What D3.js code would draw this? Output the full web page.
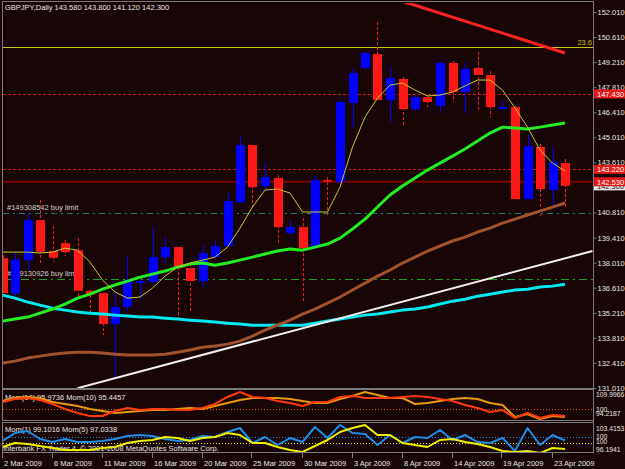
<!DOCTYPE html>
<html>
<head>
<meta charset="utf-8">
<script src="https://d3js.org/d3.v7.min.js"></script>
<style>
  body { margin: 0; background: #180505; }
  text { font-family: "Liberation Sans", Arial, sans-serif; font-size: 7.5px; }
</style>
</head>
<body>
<div id="chart"></div>
<script>
// ---- data ----
var dates = ["2009-03-02","2009-03-03","2009-03-04","2009-03-05","2009-03-06","2009-03-08","2009-03-09","2009-03-10","2009-03-11","2009-03-12",
  "2009-03-13","2009-03-15","2009-03-16","2009-03-17","2009-03-18","2009-03-19","2009-03-20","2009-03-22","2009-03-23","2009-03-24",
  "2009-03-25","2009-03-26","2009-03-27","2009-03-29","2009-03-30","2009-03-31","2009-04-01","2009-04-02","2009-04-03","2009-04-05",
  "2009-04-06","2009-04-07","2009-04-08","2009-04-09","2009-04-12","2009-04-13","2009-04-14","2009-04-15","2009-04-16","2009-04-17",
  "2009-04-19","2009-04-20","2009-04-21","2009-04-22","2009-04-23","2009-04-24"];

var open  = [138.26,136.29,138.15,140.39,138.66,139.10,138.71,136.44,136.31,134.58,135.53,136.87,136.93,138.32,138.88,137.71,136.98,138.32,138.94,141.40,
             144.58,142.29,142.74,139.66,140.00,138.88,142.62,142.51,146.93,148.88,149.66,147.09,148.27,146.59,147.26,146.76,149.16,147.54,148.88,148.49,
             146.59,146.70,141.56,144.47,142.07,143.58];
var high  = [138.43,138.62,140.78,141.51,140.05,139.27,139.38,136.48,136.31,136.31,138.38,137.04,140.00,139.44,138.88,137.99,138.99,139.27,141.90,145.08,
             144.58,143.57,142.90,140.39,140.50,142.85,142.79,147.09,148.82,149.78,151.45,148.94,148.38,147.37,147.37,149.27,149.27,149.22,149.78,148.71,
             147.09,146.76,145.19,144.64,144.52,143.80];
var low   = [136.20,136.14,137.59,137.99,138.04,138.38,136.03,135.18,133.97,131.56,135.36,135.97,136.87,137.99,134.91,135.25,136.65,138.32,138.88,141.34,
             140.95,142.07,139.00,139.55,135.75,138.82,140.61,142.46,145.59,148.82,147.09,145.81,145.70,146.48,146.70,146.37,146.98,146.37,146.53,146.14,
             146.59,141.50,141.56,140.61,141.06,141.12];
var close = [136.31,138.19,140.39,138.62,138.28,138.60,136.44,136.25,134.58,135.53,137.04,136.98,138.32,138.88,137.71,136.98,138.54,138.94,141.45,144.58,
             142.23,142.79,140.00,140.00,138.82,142.62,142.57,146.98,148.60,149.72,147.09,148.32,146.59,147.26,146.98,149.16,147.54,148.83,148.49,146.70,
             146.70,141.56,144.52,142.12,143.63,142.30];

// moving averages
var maYellow = [138.60,138.60,138.60,138.55,138.60,138.82,138.71,138.04,137.04,136.37,136.03,136.09,136.59,137.26,137.76,137.99,138.15,138.32,138.88,139.94,
                141.12,142.07,142.12,141.90,140.84,140.84,140.84,142.23,144.47,146.14,147.20,147.93,148.04,147.65,147.32,147.37,147.54,147.88,148.21,148.21,
                147.65,146.65,145.58,144.30,143.57,143.13];
var maGreen  = [134.75,134.86,134.97,135.19,135.42,135.70,136.03,136.25,136.53,136.76,136.98,137.20,137.37,137.54,137.76,137.93,137.99,137.87,137.99,138.15,
                138.32,138.49,138.66,138.77,138.71,138.88,139.05,139.38,139.89,140.44,141.12,141.79,142.29,142.74,143.18,143.57,143.96,144.36,144.80,145.25,
                145.58,145.53,145.47,145.58,145.70,145.81];
var maBrown  = [132.40,132.51,132.68,132.79,132.90,132.96,133.01,133.01,132.96,132.90,132.85,132.85,132.85,132.90,133.01,133.13,133.29,133.35,133.46,133.63,
                133.91,134.24,134.52,134.80,135.14,135.42,135.75,136.09,136.48,136.87,137.26,137.60,137.99,138.32,138.66,138.94,139.22,139.44,139.72,139.94,
                140.22,140.44,140.67,140.89,141.11,141.34];
var maCyan   = [136.20,136.03,135.81,135.64,135.47,135.36,135.25,135.19,135.14,135.08,135.03,134.97,134.97,134.91,134.86,134.80,134.75,134.69,134.63,134.58,
                134.52,134.52,134.52,134.52,134.52,134.63,134.75,134.86,134.97,135.08,135.14,135.25,135.36,135.42,135.53,135.70,135.86,135.97,136.14,136.25,
                136.37,136.48,136.53,136.65,136.70,136.81];

// trend lines: [bar index, price]
var trendUp   = [[6.0, 131.00], [47.2, 138.66]];
var trendDown = [[32.2, 152.57], [45.0, 149.72]];

// horizontal levels
var fibo236   = 150.05;
var orderA    = 147.43;
var orderB    = 143.22;
var orderC    = 142.53;
var bidPrice  = 142.30;
var limit1    = 140.78;
var limit2    = 137.08;

// 142.210 sits under the order boxes in the picture, so it is left out
var priceTicks = [131.01,132.41,133.81,135.21,136.61,138.01,139.41,140.81,143.61,145.01,146.41,147.81,149.21,150.61,152.01];

// momentum
var mom14 = [104.15,105.91,106.49,105.32,102.99,100.06,97.73,95.97,95.97,98.90,100.65,99.48,100.06,100.06,99.48,99.48,100.65,102.99,107.08,110.00,
             107.08,106.49,104.74,103.57,101.82,104.15,104.15,107.08,107.66,106.49,106.49,106.49,107.08,107.66,107.08,105.91,104.74,102.40,100.65,98.31,
             99.48,94.80,97.73,94.80,96.56,95.97];
var mom10 = [104.74,106.49,107.08,106.49,104.15,102.99,101.82,100.06,98.90,97.73,98.31,98.90,99.48,99.48,100.06,100.65,100.06,101.82,103.57,105.32,
             106.49,106.49,106.49,105.91,104.74,103.57,103.57,105.91,107.66,110.00,108.25,106.49,106.49,102.99,103.57,104.74,105.91,106.49,105.91,103.57,
             102.40,95.39,97.14,94.22,95.97,95.45];
var mom1  = [98.97,101.19,101.75,99.53,98.69,99.53,98.69,98.69,98.97,99.53,100.36,100.64,100.36,99.53,98.97,99.25,100.36,100.08,101.47,102.58,
             98.42,100.08,97.86,99.80,98.69,102.86,99.80,103.42,101.19,100.92,97.86,100.64,98.42,100.08,99.80,102.03,99.25,100.64,98.69,98.42,
             99.80,96.19,102.58,97.86,100.64,99.10];
var mom5  = [98.0,100.0,99.5,98.5,97.5,96.5,96.5,96.5,97.5,98.0,100.0,101.0,101.5,103.0,102.5,101.0,102.5,103.0,105.0,104.0,
             100.0,100.0,98.0,96.5,95.5,98.5,101.5,105.5,107.5,109.0,104.0,104.0,100.0,99.0,98.0,101.5,102.0,100.5,99.5,98.0,
             96.0,95.5,96.0,95.0,97.5,97.03];

// ---- drawing ----
var W = 625, H = 469;
var bg = "#180505", frame = "#7a7a7a";
var svg = d3.select("#chart").append("svg").attr("width", W).attr("height", H);
svg.append("rect").attr("width", W).attr("height", H).attr("fill", bg);

var parse = d3.timeParse("%Y-%m-%d");
var fmtDate = d3.timeFormat("%-d %b %Y");

var x = d3.scaleLinear().domain([0, 45]).range([2.5, 565]);
var y = d3.scaleLinear().domain([131.01, 152.01]).range([388, 12]);
var yM1 = d3.scaleLinear().domain([94.2187, 109.9966]).range([419, 392]);
var yM2 = d3.scaleLinear().domain([96.1941, 103.4153]).range([451, 425]);
var yM5 = d3.scaleLinear().domain([96, 109]).range([451, 425]);

var defs = svg.append("defs");
function clip(id, x0, y0, w, h) {
  defs.append("clipPath").attr("id", id).append("rect").attr("x", x0).attr("y", y0).attr("width", w).attr("height", h);
}
clip("cMain", 3, 3, 590, 385);
clip("cP1", 3, 391, 590, 29);
clip("cP2", 3, 424, 590, 28);

// frames
svg.append("rect").attr("x", 2.5).attr("y", 1.5).attr("width", 591).attr("height", 387).attr("fill", "none").attr("stroke", frame);
svg.append("rect").attr("x", 2.5).attr("y", 389.5).attr("width", 591).attr("height", 31).attr("fill", "none").attr("stroke", frame);
svg.append("rect").attr("x", 2.5).attr("y", 422.5).attr("width", 591).attr("height", 30).attr("fill", "none").attr("stroke", frame);

var main = svg.append("g").attr("clip-path", "url(#cMain)");

function hline(g, p, scale, color, width, dash) {
  g.append("line").attr("x1", 3).attr("x2", 593)
    .attr("y1", Math.round(scale(p)) + 0.5).attr("y2", Math.round(scale(p)) + 0.5)
    .attr("stroke", color).attr("stroke-width", width).attr("stroke-dasharray", dash);
}

hline(main, fibo236, y, "#c8c41e", 1, null);
hline(main, orderA, y, "#d01818", 1, "3,2");
hline(main, orderB, y, "#d01818", 1, "3,2");
main.append("line").attr("x1", 3).attr("x2", 593).attr("y1", y(orderC)).attr("y2", y(orderC))
  .attr("stroke", "#7a0000").attr("stroke-width", 2);
hline(main, limit1, y, "#1a8080", 1, "6,4,2,4");
hline(main, limit2, y, "#20a020", 1, "8,4,2,4");

main.append("text").attr("x", 7).attr("y", y(limit1) - 3).attr("fill", "#d0d0d0").text("#149308542 buy limit");
main.append("text").attr("x", 7).attr("y", y(limit2) - 3).attr("fill", "#d0d0d0").text("#149130926 buy limit");
main.append("text").attr("x", 592).attr("y", y(fibo236) - 2).attr("text-anchor", "end").attr("fill", "#c8c41e").text("23.6");

// candles
var bars = dates.map(function (d, i) {
  return { i: i, o: open[i], h: high[i], l: low[i], c: close[i] };
});
var candles = main.append("g").selectAll("g").data(bars).enter().append("g");
candles.append("line")
  .attr("x1", function (d) { return Math.round(x(d.i)) + 0.5; })
  .attr("x2", function (d) { return Math.round(x(d.i)) + 0.5; })
  .attr("y1", function (d) { return y(d.h); })
  .attr("y2", function (d) { return y(d.l); })
  .attr("stroke", function (d) { return d.c >= d.o ? "#0000ff" : "#ff1818"; })
  .attr("stroke-dasharray", function (d) { return d.c >= d.o ? null : "3,2"; });
candles.append("rect")
  .attr("x", function (d) { return Math.round(x(d.i)) - 4; })
  .attr("width", 9)
  .attr("y", function (d) { return y(Math.max(d.o, d.c)); })
  .attr("height", function (d) { return Math.max(1.5, Math.abs(y(d.o) - y(d.c))); })
  .attr("fill", function (d) { return d.c >= d.o ? "#0000ff" : "#ff1818"; });

// moving averages
function maLine(g, data, scale, color, width) {
  g.append("path").datum(data)
    .attr("d", d3.line().x(function (d, i) { return x(i); }).y(function (d) { return scale(d); }))
    .attr("fill", "none").attr("stroke", color).attr("stroke-width", width).attr("stroke-linejoin", "round");
}
maLine(main, maCyan, y, "#00e8f0", 3);
maLine(main, maBrown, y, "#a0522d", 3);
maLine(main, maGreen, y, "#22ee22", 3);
maLine(main, maYellow, y, "#c8c832", 1);

// trend lines
function tline(pts, color, width) {
  main.append("line")
    .attr("x1", x(pts[0][0])).attr("y1", y(pts[0][1]))
    .attr("x2", x(pts[1][0])).attr("y2", y(pts[1][1]))
    .attr("stroke", color).attr("stroke-width", width);
}
tline(trendUp, "#f0f0f0", 2);
tline(trendDown, "#ff2020", 3);

// price axis
var axis = svg.append("g").attr("transform", "translate(593.5,0)")
  .call(d3.axisRight(y).tickValues(priceTicks).tickFormat(d3.format(".3f")).tickSize(3).tickPadding(1));
axis.select(".domain").remove();
axis.selectAll("line").attr("stroke", frame);
axis.selectAll("text").attr("fill", "#e6e6e6").style("font-family", "Liberation Sans, Arial, sans-serif").style("font-size", "7.5px");
svg.append("line").attr("x1", 593.5).attr("x2", 593.5).attr("y1", 1).attr("y2", 453).attr("stroke", frame);

// price boxes
function box(p, fill, txt) {
  var g = svg.append("g").attr("transform", "translate(594," + (y(p) - 4.5) + ")");
  g.append("rect").attr("width", 31).attr("height", 9).attr("fill", fill);
  g.append("text").attr("x", 3).attr("y", 7.5).attr("fill", txt).text(d3.format(".3f")(p));
}
box(bidPrice, "#e8e8e8", "#202020");
box(orderA, "#e01818", "#ffffff");
box(orderB, "#e01818", "#ffffff");
box(orderC, "#e01818", "#ffffff");

svg.append("text").attr("x", 5).attr("y", 10).attr("fill", "#e6e6e6")
  .text("GBPJPY,Daily  143.580 143.800 141.120 142.300");

// momentum panel 1
var p1 = svg.append("g").attr("clip-path", "url(#cP1)");
hline(p1, 100, yM1, "#e8501c", 1, "1,2");
p1.append("text").attr("x", 5).attr("y", 400).attr("fill", "#e6e6e6").text("Mom(14) 95.9736  Mom(10) 95.4457");
maLine(p1, mom10, yM1, "#e8980c", 2);
maLine(p1, mom14, yM1, "#ff3a0a", 2);

// momentum panel 2
var p2 = svg.append("g").attr("clip-path", "url(#cP2)");
hline(p2, 100, yM2, "#1e88e0", 1, "1,2");
hline(p2, 100, yM5, "#e0e000", 1, "1,2");
p2.append("text").attr("x", 5).attr("y", 432).attr("fill", "#e6e6e6").text("Mom(1) 99.1016  Mom(5) 97.0338");
p2.append("text").attr("x", 3).attr("y", 451).attr("fill", "#e6e6e6").text("Interbank FX Trader 4, \u00a9 2001-2008 MetaQuotes Software Corp.");
maLine(p2, mom1, yM2, "#1e8ee8", 2);
maLine(p2, mom5, yM5, "#f0f000", 2);

// sub-window scale labels
var subLabels = [
  [yM1(109.9966) + 5, "109.9966"], [yM1(100) + 3, "100"], [yM1(94.2187) - 3, "94.2187"],
  [yM2(103.4153) + 6, "103.4153"], [yM2(100) + 2, "100"], [yM5(100) + 1, "100"], [yM2(96.1941) + 1, "96.1941"]
];
svg.selectAll(".sub").data(subLabels).enter().append("text")
  .attr("x", 596).attr("y", function (d) { return d[0]; }).attr("fill", "#e6e6e6")
  .style("font-size", "6.8px").text(function (d) { return d[1]; });

// date axis
var tickIdx = d3.range(0, dates.length, 4);
var dAxis = svg.append("g").attr("transform", "translate(0,453)");
dAxis.selectAll("line").data(tickIdx).enter().append("line")
  .attr("x1", function (i) { return Math.round(x(i)) - 0.5; })
  .attr("x2", function (i) { return Math.round(x(i)) - 0.5; })
  .attr("y1", 0).attr("y2", 5).attr("stroke", frame);
dAxis.selectAll("text").data(tickIdx).enter().append("text")
  .attr("x", function (i) { return Math.round(x(i)) + 1; })
  .attr("y", 13).attr("fill", "#e6e6e6")
  .text(function (i) { return fmtDate(parse(dates[i])); });
</script>
</body>
</html>
